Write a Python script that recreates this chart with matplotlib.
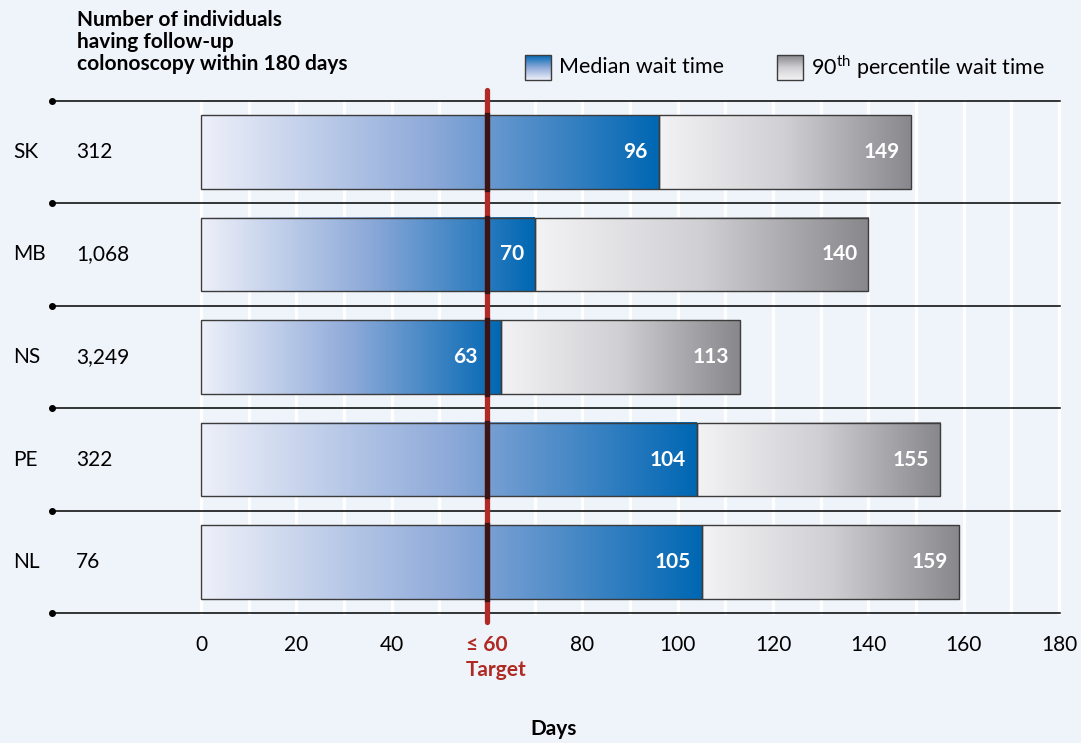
import numpy as np
import matplotlib.pyplot as plt
from matplotlib.colors import LinearSegmentedColormap

plt.rcParams['font.family'] = ['Lato', 'DejaVu Sans']
plt.rcParams['mathtext.fontset'] = 'custom'
plt.rcParams['mathtext.rm'] = 'Lato'

provinces = ['SK', 'MB', 'NS', 'PE', 'NL']
counts = ['312', '1,068', '3,249', '322', '76']
median = [96, 70, 63, 104, 105]
p90 = [149, 140, 113, 155, 159]
target = 60
ticks = [0, 20, 40, 80, 100, 120, 140, 160, 180]

bg = '#eff3fa'
blue_cm = LinearSegmentedColormap.from_list(
    'blue', [(0, '#eef0f9'), (0.5, '#8eaad9'), (1, '#0067b3')])
grey_cm = LinearSegmentedColormap.from_list(
    'grey', ['#f3f3f5', '#d0d0d4', '#88888c'])

fig = plt.figure(figsize=(10.81, 7.43), dpi=100, facecolor=bg)
ax = fig.add_axes([0, 0, 1, 1])
ax.set_facecolor(bg)
ax.axis('off')

# pixel layout -> data coords
x0, sx = 201, 858 / 180
y0, sy = 152, 102.5
def px(x):
    return (x - x0) / sx
def py(y):
    return (y - y0) / sy

ax.set_xlim(px(0), px(1081))
ax.set_ylim(py(743), py(0))

h = 0.72
grad = np.linspace(0, 1, 256).reshape(1, -1)

# white grid every 10 days
for d in range(0, 181, 10):
    ax.plot([d, d], [-0.5, len(provinces) - 0.5], color='white', lw=2.4, zorder=1)

# row separators with a dot at the left end
for k in range(len(provinces) + 1):
    ax.plot([px(52), px(1060)], [k - 0.5, k - 0.5], color='black', lw=1.1, zorder=2)
    ax.plot(px(52), k - 0.5, 'o', color='black', ms=4, zorder=3)

# target line
ax.plot([target, target], [py(90), py(622)], color='#b22a26', lw=3.8,
        solid_capstyle='round', zorder=6)

for i, (m, p) in enumerate(zip(median, p90)):
    top, bot = i - h / 2, i + h / 2
    ax.imshow(grad, cmap=blue_cm, extent=(0, m, bot, top), aspect='auto', zorder=4,
              interpolation='bilinear')
    ax.imshow(grad, cmap=grey_cm, extent=(m, p, bot, top), aspect='auto', zorder=4,
              interpolation='bilinear')
    ax.add_patch(plt.Rectangle((0, top), m, h, fill=False, ec='#3c3c3c', lw=1, zorder=5))
    ax.add_patch(plt.Rectangle((m, top), p - m, h, fill=False, ec='#3c3c3c', lw=1, zorder=5))
    ax.plot([target, target], [top, bot], color='#3a1414', lw=3.8, zorder=7)
    # keep the median label clear of the target line
    xm = m - 2.3
    if target - 1 < xm < target + 6:
        xm = target - 2
    ax.text(xm, i, str(m), color='white', fontsize=15, fontweight='bold',
            ha='right', va='center', zorder=8)
    ax.text(p - 2.3, i, str(p), color='white', fontsize=15, fontweight='bold',
            ha='right', va='center', zorder=8)
    ax.text(px(13), i, provinces[i], fontsize=15, ha='left', va='center')
    ax.text(px(76), i, counts[i], fontsize=15, ha='left', va='center')

# x tick labels
for t in ticks:
    ax.text(t, py(645), str(t), fontsize=15, ha='center', va='center')
ax.text(target, py(645), '≤ 60', fontsize=15, fontweight='bold', color='#b02a24',
        ha='center', va='center')
ax.text(target + 2, py(670), 'Target', fontsize=15, fontweight='bold', color='#b02a24',
        ha='center', va='center')
ax.text(px(554), py(729), 'Days', fontsize=15, fontweight='bold', ha='center', va='center')

ax.text(px(77), py(10), 'Number of individuals\nhaving follow-up\ncolonoscopy within 180 days',
        fontsize=15, fontweight='bold', ha='left', va='top', linespacing=1.13)

# legend
lg = np.linspace(1, 0, 64).reshape(-1, 1)
for x_l, cm, label in [(525, blue_cm, 'Median wait time'),
                       (777, grey_cm, '90$^{\\mathrm{th}}$ percentile wait time')]:
    ax.imshow(lg, cmap=cm, extent=(px(x_l), px(x_l + 26), py(80), py(55)),
              aspect='auto', zorder=4)
    ax.add_patch(plt.Rectangle((px(x_l), py(55)), 26 / sx, 25 / sy, fill=False,
                               ec='#3c3c3c', lw=1, zorder=5))
    ax.text(px(x_l + 34), py(67), label, fontsize=15.5, ha='left', va='center')

ax.set_xlim(px(0), px(1081))
ax.set_ylim(py(743), py(0))
fig.savefig('out.png', dpi=100, facecolor=bg)
